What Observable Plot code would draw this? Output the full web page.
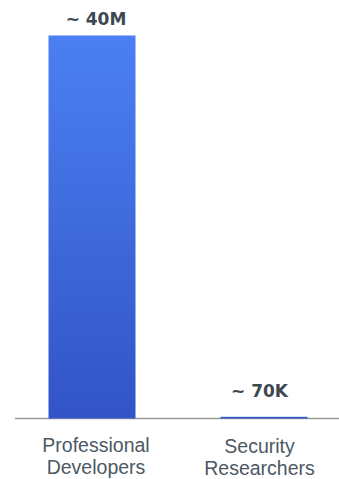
<!DOCTYPE html>
<html>
<head>
<meta charset="utf-8">
<script src="https://cdn.jsdelivr.net/npm/d3@7"></script>
<script src="https://cdn.jsdelivr.net/npm/@observablehq/plot@0.6"></script>
<style>
  html, body { margin: 0; padding: 0; background: #fff; }
  #chart svg { display: block; }
</style>
</head>
<body>
<div id="chart"></div>
<script>
const categories = ["Professional\nDevelopers", "Security\nResearchers"];
const counts = [40000000, 70000];
const valueLabels = ["~ 40M", "~ 70K"];

const data = categories.map((c, i) => ({category: c, count: counts[i], label: valueLabels[i]}));

const gradientDefs = (index, scales, values, dims) => {
  const defs = d3.create("svg:defs");
  const g = defs.append("linearGradient")
    .attr("id", "barGrad")
    .attr("gradientUnits", "userSpaceOnUse")
    .attr("x1", 0).attr("x2", 0)
    .attr("y1", scales.y(d3.max(counts)))
    .attr("y2", scales.y(0));
  g.append("stop").attr("offset", "0%").attr("stop-color", "#4b80f2");
  g.append("stop").attr("offset", "100%").attr("stop-color", "#3254c6");
  return defs.node();
};

const chart = Plot.plot({
  width: 339,
  height: 479,
  marginTop: 36,
  marginBottom: 61,
  marginLeft: 15,
  marginRight: 0,
  style: {fontFamily: "'Liberation Sans', Arial, sans-serif", background: "#fff"},
  x: {domain: categories, range: [49, 307.75], paddingInner: 0.5, paddingOuter: 0, label: null},
  y: {domain: [0, d3.max(counts)], axis: null},
  marks: [
    gradientDefs,
    Plot.ruleY([0], {stroke: "#9a9a9a", strokeWidth: 1.5}),
    Plot.barY(data, {x: "category", y: "count", fill: "url(#barGrad)", stroke: "url(#barGrad)", strokeWidth: 1}),
    Plot.text(data.slice(0, 1), {x: "category", y: "count", text: "label", lineAnchor: "bottom", dy: -12, dx: 3.5,
      fontFamily: "'DejaVu Sans', sans-serif", fontWeight: "bold", fontSize: 17, fill: "#3d4852"}),
    Plot.text(data.slice(1), {x: "category", y: "count", text: "label", lineAnchor: "bottom", dy: -21, dx: -5,
      fontFamily: "'DejaVu Sans', sans-serif", fontWeight: "bold", fontSize: 17, fill: "#3d4852"}),
    Plot.axisX({ticks: categories.slice(0, 1), tickSize: 0, tickPadding: 18, fontSize: 19.5, lineHeight: 1.12, dx: 3.5, fill: "#4c5864", label: null}),
    Plot.axisX({ticks: categories.slice(1), tickSize: 0, tickPadding: 19.5, fontSize: 19.5, lineHeight: 1.1, dx: -5, fill: "#4c5864", label: null})
  ]
});
document.getElementById("chart").appendChild(chart);
</script>
</body>
</html>
